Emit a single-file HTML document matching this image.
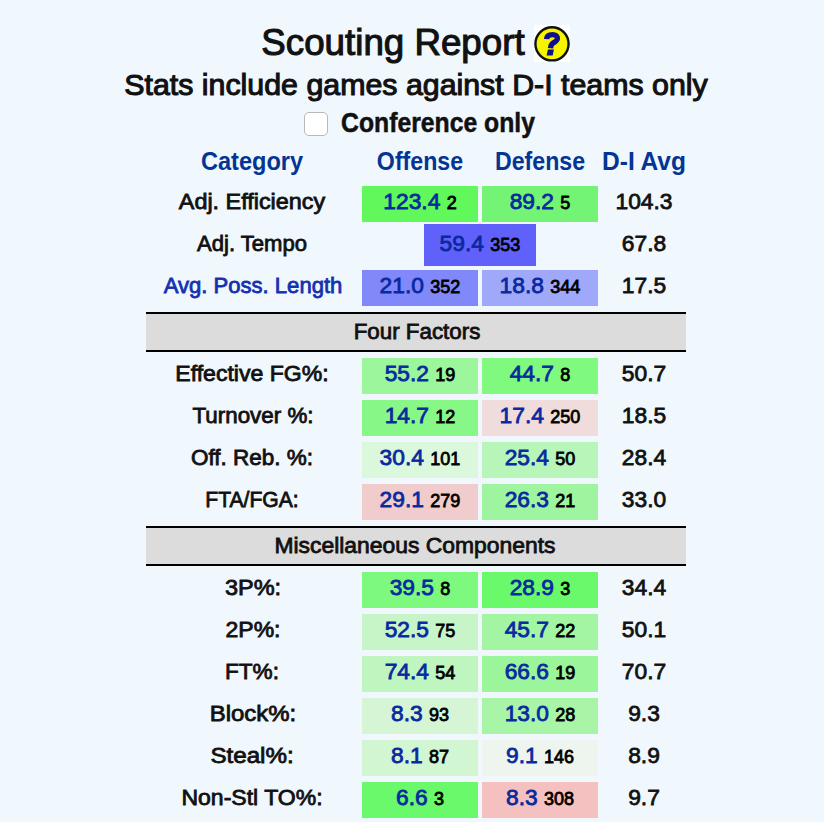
<!DOCTYPE html>
<html><head><meta charset="utf-8"><style>
html,body{margin:0;padding:0;}
body{width:824px;height:822px;overflow:hidden;background:#f0f8fe;position:relative;font-family:"Liberation Sans", sans-serif;}
.t{position:absolute;width:800px;text-align:center;white-space:nowrap;}
.b{position:absolute;}
</style></head><body>
<div class="t" style="left:-6.70px;top:18.30px;font-size:37.2px;line-height:48px;font-weight:400;color:#111;-webkit-text-stroke:1.1px #111;transform:scaleX(0.9872);">Scouting Report</div>
<div class="b" style="left:534px;top:25px;width:36px;height:37px;background:#fff;"></div>
<svg class="b" style="left:532px;top:23px" width="40" height="42" viewBox="0 0 40 42">
<circle cx="20" cy="20.8" r="16.6" fill="#f7f400" stroke="#111" stroke-width="2.4"/>
<path d="M14.6,16.2 C14.8,12.6 17.4,11.6 20.6,11.6 C23.8,11.6 25.6,13.2 25.4,15.6 C25.2,18.2 22.4,19 20.6,20.4 C19.2,21.5 18.7,22.6 18.5,25.2" fill="none" stroke="#10108c" stroke-width="5.4" stroke-linecap="butt"/><path d="M15.9,26.6 L21.9,26.6 L20.7,32.6 L14.6,32.6 Z" fill="#10108c"/>
</svg>
<div class="t" style="left:15.70px;top:63.66px;font-size:30.4px;line-height:40px;font-weight:400;color:#111;-webkit-text-stroke:1.1px #111;transform:scaleX(0.9983);">Stats include games against D-I teams only</div>
<div class="b" style="left:304px;top:112px;width:22px;height:22px;background:#fff;border:1px solid #b8b8b8;border-radius:5px;"></div>
<div class="t" style="left:37.80px;top:104.87px;font-size:27.2px;line-height:35px;font-weight:700;color:#111;-webkit-text-stroke:0.5px #111;transform:scaleX(0.9100);">Conference only</div>
<div class="t" style="left:-148.10px;top:144.66px;font-size:25.5px;line-height:33px;font-weight:700;color:#043494;transform:scaleX(0.9244);">Category</div>
<div class="t" style="left:20.10px;top:144.66px;font-size:25.5px;line-height:33px;font-weight:700;color:#043494;transform:scaleX(0.9086);">Offense</div>
<div class="t" style="left:139.80px;top:144.66px;font-size:25.5px;line-height:33px;font-weight:700;color:#043494;transform:scaleX(0.9072);">Defense</div>
<div class="t" style="left:244.30px;top:144.66px;font-size:25.5px;line-height:33px;font-weight:700;color:#043494;transform:scaleX(0.9608);">D-I Avg</div>
<div class="t" style="left:-148.00px;top:188.29px;font-size:21.8px;line-height:28px;font-weight:400;color:#111;-webkit-text-stroke:0.8px #111;transform:scaleX(1.0726);">Adj. Efficiency</div>
<div class="b" style="left:362px;top:186px;width:116px;height:36px;background:#60f85a;"></div>
<div class="t" style="left:20.00px;top:186.30px;font-size:22.8px;line-height:30px;font-weight:400;color:#0829a0;-webkit-text-stroke:0.8px #0829a0;"><span style="color:#0829a0">123.4</span> <span style="font-size:18px;color:#000;-webkit-text-stroke:0.8px #000">2</span></div>
<div class="b" style="left:482px;top:186px;width:116px;height:36px;background:#74f474;"></div>
<div class="t" style="left:140.00px;top:186.30px;font-size:22.8px;line-height:30px;font-weight:400;color:#0829a0;-webkit-text-stroke:0.8px #0829a0;"><span style="color:#0829a0">89.2</span> <span style="font-size:18px;color:#000;-webkit-text-stroke:0.8px #000">5</span></div>
<div class="t" style="left:244.00px;top:186.30px;font-size:22.8px;line-height:30px;font-weight:400;color:#111;-webkit-text-stroke:0.8px #111;">104.3</div>
<div class="t" style="left:-147.90px;top:230.29px;font-size:21.8px;line-height:28px;font-weight:400;color:#111;-webkit-text-stroke:0.8px #111;transform:scaleX(1.0123);">Adj. Tempo</div>
<div class="t" style="left:244.00px;top:228.30px;font-size:22.8px;line-height:30px;font-weight:400;color:#111;-webkit-text-stroke:0.8px #111;">67.8</div>
<div class="t" style="left:-147.20px;top:272.29px;font-size:21.8px;line-height:28px;font-weight:400;color:#1531b0;-webkit-text-stroke:0.8px #1531b0;transform:scaleX(1.0123);">Avg. Poss. Length</div>
<div class="b" style="left:362px;top:270px;width:116px;height:36px;background:#8088fa;"></div>
<div class="t" style="left:20.00px;top:270.30px;font-size:22.8px;line-height:30px;font-weight:400;color:#0829a0;-webkit-text-stroke:0.8px #0829a0;"><span style="color:#0829a0">21.0</span> <span style="font-size:18px;color:#000;-webkit-text-stroke:0.8px #000">352</span></div>
<div class="b" style="left:482px;top:270px;width:116px;height:36px;background:#a0a8fa;"></div>
<div class="t" style="left:140.00px;top:270.30px;font-size:22.8px;line-height:30px;font-weight:400;color:#0829a0;-webkit-text-stroke:0.8px #0829a0;"><span style="color:#0829a0">18.8</span> <span style="font-size:18px;color:#000;-webkit-text-stroke:0.8px #000">344</span></div>
<div class="t" style="left:244.00px;top:270.30px;font-size:22.8px;line-height:30px;font-weight:400;color:#111;-webkit-text-stroke:0.8px #111;">17.5</div>
<div class="b" style="left:424px;top:224px;width:112px;height:42px;background:#6060fa;"></div>
<div class="t" style="left:80.00px;top:228.30px;font-size:22.8px;line-height:30px;font-weight:400;color:#0829a0;-webkit-text-stroke:0.8px #0829a0;"><span style="color:#0829a0">59.4</span> <span style="font-size:18px;color:#000;-webkit-text-stroke:0.8px #000">353</span></div>
<div class="b" style="left:146px;top:312px;width:540px;height:36px;background:#dcdcdc;border-top:2px solid #000;border-bottom:2px solid #000;"></div>
<div class="t" style="left:16.60px;top:317.30px;font-size:22.2px;line-height:29px;font-weight:400;color:#111;-webkit-text-stroke:0.8px #111;transform:scaleX(1.0069);">Four Factors</div>
<div class="t" style="left:-148.00px;top:360.29px;font-size:21.8px;line-height:28px;font-weight:400;color:#111;-webkit-text-stroke:0.8px #111;transform:scaleX(1.0573);">Effective FG%:</div>
<div class="b" style="left:362px;top:358px;width:116px;height:36px;background:#9cf69c;"></div>
<div class="t" style="left:20.00px;top:358.30px;font-size:22.8px;line-height:30px;font-weight:400;color:#0829a0;-webkit-text-stroke:0.8px #0829a0;"><span style="color:#0829a0">55.2</span> <span style="font-size:18px;color:#000;-webkit-text-stroke:0.8px #000">19</span></div>
<div class="b" style="left:482px;top:358px;width:116px;height:36px;background:#7ffa7f;"></div>
<div class="t" style="left:140.00px;top:358.30px;font-size:22.8px;line-height:30px;font-weight:400;color:#0829a0;-webkit-text-stroke:0.8px #0829a0;"><span style="color:#0829a0">44.7</span> <span style="font-size:18px;color:#000;-webkit-text-stroke:0.8px #000">8</span></div>
<div class="t" style="left:244.00px;top:358.30px;font-size:22.8px;line-height:30px;font-weight:400;color:#111;-webkit-text-stroke:0.8px #111;">50.7</div>
<div class="t" style="left:-147.20px;top:402.29px;font-size:21.8px;line-height:28px;font-weight:400;color:#111;-webkit-text-stroke:0.8px #111;transform:scaleX(1.0266);">Turnover %:</div>
<div class="b" style="left:362px;top:400px;width:116px;height:36px;background:#87f787;"></div>
<div class="t" style="left:20.00px;top:400.30px;font-size:22.8px;line-height:30px;font-weight:400;color:#0829a0;-webkit-text-stroke:0.8px #0829a0;"><span style="color:#0829a0">14.7</span> <span style="font-size:18px;color:#000;-webkit-text-stroke:0.8px #000">12</span></div>
<div class="b" style="left:482px;top:400px;width:116px;height:36px;background:#f0dcdc;"></div>
<div class="t" style="left:140.00px;top:400.30px;font-size:22.8px;line-height:30px;font-weight:400;color:#0829a0;-webkit-text-stroke:0.8px #0829a0;"><span style="color:#0829a0">17.4</span> <span style="font-size:18px;color:#000;-webkit-text-stroke:0.8px #000">250</span></div>
<div class="t" style="left:244.00px;top:400.30px;font-size:22.8px;line-height:30px;font-weight:400;color:#111;-webkit-text-stroke:0.8px #111;">18.5</div>
<div class="t" style="left:-148.00px;top:444.29px;font-size:21.8px;line-height:28px;font-weight:400;color:#111;-webkit-text-stroke:0.8px #111;transform:scaleX(1.0311);">Off. Reb. %:</div>
<div class="b" style="left:362px;top:442px;width:116px;height:36px;background:#dcf8dc;"></div>
<div class="t" style="left:20.00px;top:442.30px;font-size:22.8px;line-height:30px;font-weight:400;color:#0829a0;-webkit-text-stroke:0.8px #0829a0;"><span style="color:#0829a0">30.4</span> <span style="font-size:18px;color:#000;-webkit-text-stroke:0.8px #000">101</span></div>
<div class="b" style="left:482px;top:442px;width:116px;height:36px;background:#b8f5b8;"></div>
<div class="t" style="left:140.00px;top:442.30px;font-size:22.8px;line-height:30px;font-weight:400;color:#0829a0;-webkit-text-stroke:0.8px #0829a0;"><span style="color:#0829a0">25.4</span> <span style="font-size:18px;color:#000;-webkit-text-stroke:0.8px #000">50</span></div>
<div class="t" style="left:244.00px;top:442.30px;font-size:22.8px;line-height:30px;font-weight:400;color:#111;-webkit-text-stroke:0.8px #111;">28.4</div>
<div class="t" style="left:-148.00px;top:486.29px;font-size:21.8px;line-height:28px;font-weight:400;color:#111;-webkit-text-stroke:0.8px #111;transform:scaleX(0.9680);">FTA/FGA:</div>
<div class="b" style="left:362px;top:484px;width:116px;height:36px;background:#f0cccc;"></div>
<div class="t" style="left:20.00px;top:484.30px;font-size:22.8px;line-height:30px;font-weight:400;color:#0829a0;-webkit-text-stroke:0.8px #0829a0;"><span style="color:#0829a0">29.1</span> <span style="font-size:18px;color:#000;-webkit-text-stroke:0.8px #000">279</span></div>
<div class="b" style="left:482px;top:484px;width:116px;height:36px;background:#9ff59f;"></div>
<div class="t" style="left:140.00px;top:484.30px;font-size:22.8px;line-height:30px;font-weight:400;color:#0829a0;-webkit-text-stroke:0.8px #0829a0;"><span style="color:#0829a0">26.3</span> <span style="font-size:18px;color:#000;-webkit-text-stroke:0.8px #000">21</span></div>
<div class="t" style="left:244.00px;top:484.30px;font-size:22.8px;line-height:30px;font-weight:400;color:#111;-webkit-text-stroke:0.8px #111;">33.0</div>
<div class="b" style="left:146px;top:526px;width:540px;height:36px;background:#dcdcdc;border-top:2px solid #000;border-bottom:2px solid #000;"></div>
<div class="t" style="left:15.40px;top:531.30px;font-size:22.2px;line-height:29px;font-weight:400;color:#111;-webkit-text-stroke:0.8px #111;transform:scaleX(1.0314);">Miscellaneous Components</div>
<div class="t" style="left:-146.70px;top:574.29px;font-size:21.8px;line-height:28px;font-weight:400;color:#111;-webkit-text-stroke:0.8px #111;transform:scaleX(1.0777);">3P%:</div>
<div class="b" style="left:362px;top:572px;width:116px;height:36px;background:#7dfa7d;"></div>
<div class="t" style="left:20.00px;top:572.30px;font-size:22.8px;line-height:30px;font-weight:400;color:#0829a0;-webkit-text-stroke:0.8px #0829a0;"><span style="color:#0829a0">39.5</span> <span style="font-size:18px;color:#000;-webkit-text-stroke:0.8px #000">8</span></div>
<div class="b" style="left:482px;top:572px;width:116px;height:36px;background:#6af96a;"></div>
<div class="t" style="left:140.00px;top:572.30px;font-size:22.8px;line-height:30px;font-weight:400;color:#0829a0;-webkit-text-stroke:0.8px #0829a0;"><span style="color:#0829a0">28.9</span> <span style="font-size:18px;color:#000;-webkit-text-stroke:0.8px #000">3</span></div>
<div class="t" style="left:244.00px;top:572.30px;font-size:22.8px;line-height:30px;font-weight:400;color:#111;-webkit-text-stroke:0.8px #111;">34.4</div>
<div class="t" style="left:-147.20px;top:616.29px;font-size:21.8px;line-height:28px;font-weight:400;color:#111;-webkit-text-stroke:0.8px #111;transform:scaleX(1.0550);">2P%:</div>
<div class="b" style="left:362px;top:614px;width:116px;height:36px;background:#c8f5c8;"></div>
<div class="t" style="left:20.00px;top:614.30px;font-size:22.8px;line-height:30px;font-weight:400;color:#0829a0;-webkit-text-stroke:0.8px #0829a0;"><span style="color:#0829a0">52.5</span> <span style="font-size:18px;color:#000;-webkit-text-stroke:0.8px #000">75</span></div>
<div class="b" style="left:482px;top:614px;width:116px;height:36px;background:#a3f5a3;"></div>
<div class="t" style="left:140.00px;top:614.30px;font-size:22.8px;line-height:30px;font-weight:400;color:#0829a0;-webkit-text-stroke:0.8px #0829a0;"><span style="color:#0829a0">45.7</span> <span style="font-size:18px;color:#000;-webkit-text-stroke:0.8px #000">22</span></div>
<div class="t" style="left:244.00px;top:614.30px;font-size:22.8px;line-height:30px;font-weight:400;color:#111;-webkit-text-stroke:0.8px #111;">50.1</div>
<div class="t" style="left:-147.60px;top:658.29px;font-size:21.8px;line-height:28px;font-weight:400;color:#111;-webkit-text-stroke:0.8px #111;transform:scaleX(1.0347);">FT%:</div>
<div class="b" style="left:362px;top:656px;width:116px;height:36px;background:#bff5bf;"></div>
<div class="t" style="left:20.00px;top:656.30px;font-size:22.8px;line-height:30px;font-weight:400;color:#0829a0;-webkit-text-stroke:0.8px #0829a0;"><span style="color:#0829a0">74.4</span> <span style="font-size:18px;color:#000;-webkit-text-stroke:0.8px #000">54</span></div>
<div class="b" style="left:482px;top:656px;width:116px;height:36px;background:#9bf59b;"></div>
<div class="t" style="left:140.00px;top:656.30px;font-size:22.8px;line-height:30px;font-weight:400;color:#0829a0;-webkit-text-stroke:0.8px #0829a0;"><span style="color:#0829a0">66.6</span> <span style="font-size:18px;color:#000;-webkit-text-stroke:0.8px #000">19</span></div>
<div class="t" style="left:244.00px;top:656.30px;font-size:22.8px;line-height:30px;font-weight:400;color:#111;-webkit-text-stroke:0.8px #111;">70.7</div>
<div class="t" style="left:-147.20px;top:700.29px;font-size:21.8px;line-height:28px;font-weight:400;color:#111;-webkit-text-stroke:0.8px #111;transform:scaleX(1.0984);">Block%:</div>
<div class="b" style="left:362px;top:698px;width:116px;height:36px;background:#d5f5d5;"></div>
<div class="t" style="left:20.00px;top:698.30px;font-size:22.8px;line-height:30px;font-weight:400;color:#0829a0;-webkit-text-stroke:0.8px #0829a0;"><span style="color:#0829a0">8.3</span> <span style="font-size:18px;color:#000;-webkit-text-stroke:0.8px #000">93</span></div>
<div class="b" style="left:482px;top:698px;width:116px;height:36px;background:#a8f5a8;"></div>
<div class="t" style="left:140.00px;top:698.30px;font-size:22.8px;line-height:30px;font-weight:400;color:#0829a0;-webkit-text-stroke:0.8px #0829a0;"><span style="color:#0829a0">13.0</span> <span style="font-size:18px;color:#000;-webkit-text-stroke:0.8px #000">28</span></div>
<div class="t" style="left:244.00px;top:698.30px;font-size:22.8px;line-height:30px;font-weight:400;color:#111;-webkit-text-stroke:0.8px #111;">9.3</div>
<div class="t" style="left:-148.00px;top:742.29px;font-size:21.8px;line-height:28px;font-weight:400;color:#111;-webkit-text-stroke:0.8px #111;transform:scaleX(1.1080);">Steal%:</div>
<div class="b" style="left:362px;top:740px;width:116px;height:36px;background:#d2f5d2;"></div>
<div class="t" style="left:20.00px;top:740.30px;font-size:22.8px;line-height:30px;font-weight:400;color:#0829a0;-webkit-text-stroke:0.8px #0829a0;"><span style="color:#0829a0">8.1</span> <span style="font-size:18px;color:#000;-webkit-text-stroke:0.8px #000">87</span></div>
<div class="b" style="left:482px;top:740px;width:116px;height:36px;background:#eef5ee;"></div>
<div class="t" style="left:140.00px;top:740.30px;font-size:22.8px;line-height:30px;font-weight:400;color:#0829a0;-webkit-text-stroke:0.8px #0829a0;"><span style="color:#0829a0">9.1</span> <span style="font-size:18px;color:#000;-webkit-text-stroke:0.8px #000">146</span></div>
<div class="t" style="left:244.00px;top:740.30px;font-size:22.8px;line-height:30px;font-weight:400;color:#111;-webkit-text-stroke:0.8px #111;">8.9</div>
<div class="t" style="left:-148.00px;top:784.29px;font-size:21.8px;line-height:28px;font-weight:400;color:#111;-webkit-text-stroke:0.8px #111;transform:scaleX(1.0558);">Non-Stl TO%:</div>
<div class="b" style="left:362px;top:782px;width:116px;height:36px;background:#6af96a;"></div>
<div class="t" style="left:20.00px;top:782.30px;font-size:22.8px;line-height:30px;font-weight:400;color:#0829a0;-webkit-text-stroke:0.8px #0829a0;"><span style="color:#0829a0">6.6</span> <span style="font-size:18px;color:#000;-webkit-text-stroke:0.8px #000">3</span></div>
<div class="b" style="left:482px;top:782px;width:116px;height:36px;background:#f5c0c0;"></div>
<div class="t" style="left:140.00px;top:782.30px;font-size:22.8px;line-height:30px;font-weight:400;color:#0829a0;-webkit-text-stroke:0.8px #0829a0;"><span style="color:#0829a0">8.3</span> <span style="font-size:18px;color:#000;-webkit-text-stroke:0.8px #000">308</span></div>
<div class="t" style="left:244.00px;top:782.30px;font-size:22.8px;line-height:30px;font-weight:400;color:#111;-webkit-text-stroke:0.8px #111;">9.7</div>
</body></html>
